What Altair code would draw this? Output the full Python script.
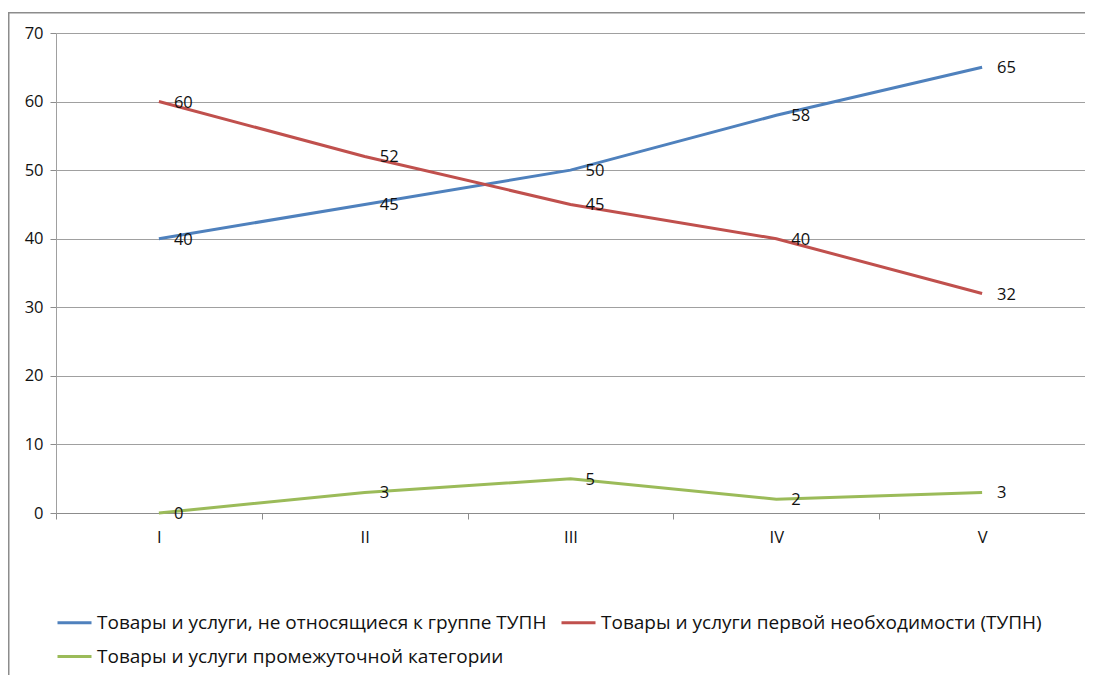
import altair as alt
import pandas as pd

categories = ["I", "II", "III", "IV", "V"]
series_names = [
    "Товары и услуги, не относящиеся к группе ТУПН",
    "Товары и услуги первой необходимости (ТУПН)",
    "Товары и услуги промежуточной категории",
]
non_basic = [40, 45, 50, 58, 65]
basic = [60, 52, 45, 40, 32]
intermediate = [0, 3, 5, 2, 3]
colors = ["#4F81BD", "#C0504D", "#9BBB59"]
y_ticks = [0, 10, 20, 30, 40, 50, 60, 70]

rows = []
for name, vals in zip(series_names, [non_basic, basic, intermediate]):
    for c, v in zip(categories, vals):
        rows.append({"cat": c, "series": name, "value": v})
df = pd.DataFrame(rows)

# legend fills column-major: order so that row 1 = blue, red; row 2 = green
legend_order = [series_names[0], series_names[2], series_names[1]]
legend_colors = [colors[0], colors[2], colors[1]]

FONT = "Open Sans"
NUM_SIZE = 16.5

x_enc = alt.X(
    "cat:N",
    sort=categories,
    scale=alt.Scale(type="band", domain=categories, paddingInner=0, paddingOuter=0),
    axis=alt.Axis(
        title=None, labelAngle=0, tickBand="extent", tickSize=6, labelPadding=10,
        domainColor="#8c8c8c", tickColor="#8c8c8c", labelFontSize=NUM_SIZE,
        labelColor="#111111", labelFont=FONT, grid=False,
    ),
)
y_enc = alt.Y(
    "value:Q",
    scale=alt.Scale(domain=[0, 70], nice=False),
    axis=alt.Axis(
        title=None, values=y_ticks, tickSize=6, labelPadding=7,
        domainColor="#a0a0a0", tickColor="#8c8c8c", gridColor="#a0a0a0",
        labelFontSize=NUM_SIZE, labelColor="#111111", labelFont=FONT,
    ),
)
color_enc = alt.Color(
    "series:N",
    scale=alt.Scale(domain=legend_order, range=legend_colors),
    legend=alt.Legend(
        title=None, orient="none", legendX=0, legendY=571, columns=2,
        symbolType="stroke", symbolSize=1156, symbolStrokeWidth=3,
        labelFontSize=19, labelFont=FONT, labelColor="#111111",
        labelOffset=4, rowPadding=5, columnPadding=8, labelLimit=700,
    ),
)

# chart frame (top and left edges) as thin filled bands
frame_top = alt.Chart(pd.DataFrame({"k": [0]})).mark_rect(
    fill="#8c8c8c", strokeWidth=0
).encode(x=alt.value(-48), x2=alt.value(1040), y=alt.value(-21), y2=alt.value(-19.5))
frame_left = alt.Chart(pd.DataFrame({"k": [0]})).mark_rect(
    fill="#8c8c8c", strokeWidth=0
).encode(x=alt.value(-48), x2=alt.value(-46.5), y=alt.value(-21), y2=alt.value(800))

lines = alt.Chart(df).mark_line(strokeWidth=3).encode(
    x=x_enc, y=y_enc, color=color_enc, detail="series:N"
)
labels = alt.Chart(df).mark_text(
    align="left", baseline="middle", dx=15, dy=1, fontSize=NUM_SIZE, font=FONT, color="#111111"
).encode(
    x=alt.X("cat:N", sort=categories),
    y="value:Q",
    text="value:Q",
)

chart = alt.layer(frame_top, frame_left, lines, labels).properties(
    width=1029,
    height=480,
    autosize=alt.AutoSizeParams(type="none"),
    padding={"left": 48, "top": 25, "right": 0, "bottom": 165},
    background="white",
).configure_view(stroke=None)

chart.save("out.html", embed_options={"renderer": "svg", "actions": False})
